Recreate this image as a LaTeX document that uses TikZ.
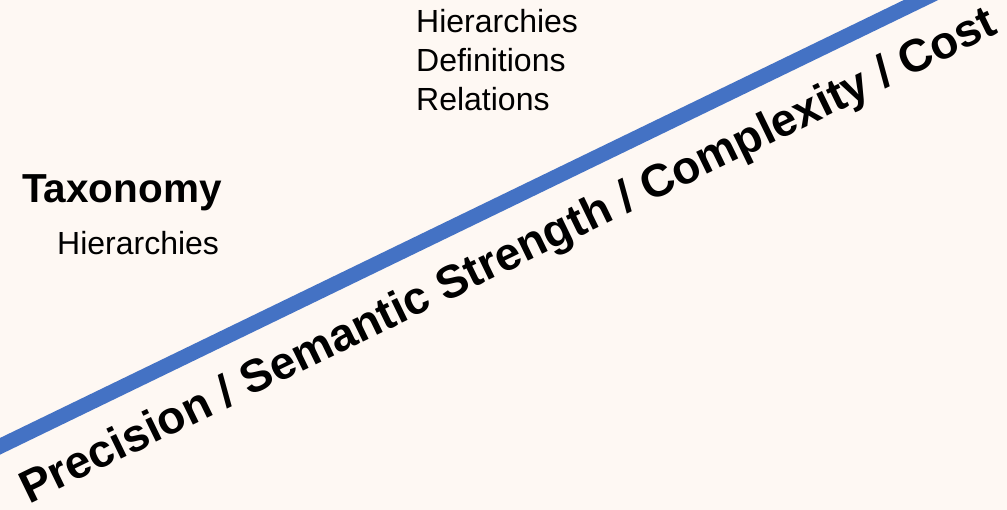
\documentclass[tikz,border=0pt]{standalone}
\usepackage{fontspec}
\setmainfont{Liberation Sans}
\definecolor{paper}{RGB}{254,248,243}
\definecolor{axisblue}{RGB}{68,114,196}
\begin{document}
\begin{tikzpicture}[x=1pt,y=-1pt,
  heading/.style={inner sep=0pt,anchor=base west,font=\fontsize{40.5}{48}\selectfont\bfseries},
  item/.style={inner sep=0pt,anchor=base west,font=\fontsize{32}{39}\selectfont},
  axislabel/.style={inner sep=0pt,font=\fontsize{46}{54}\selectfont\bfseries}]
  \useasboundingbox (0,0) rectangle (1007,510);
  \fill[paper] (0,0) rectangle (1007,510);
  \clip (0,0) rectangle (1007,510);
  % rising axis
  \coordinate (lo) at (-20,456);
  \coordinate (hi) at (985,-31);
  \draw[axisblue,line width=15pt] (lo) -- (hi);
  \node[axislabel,rotate=25.9] (axis) at (509,258) {Precision / Semantic Strength / Complexity / Cost};
  % lower-left group
  \node[heading] (tax) at (22,203) {Taxonomy};
  \node[item] (taxh) at (57,255) {Hierarchies};
  % upper group
  \node[item] (h) at (416,33) {Hierarchies};
  \node[item] (d) at (416,72) {Definitions};
  \node[item] (r) at (416,111) {Relations};
\end{tikzpicture}
\end{document}
